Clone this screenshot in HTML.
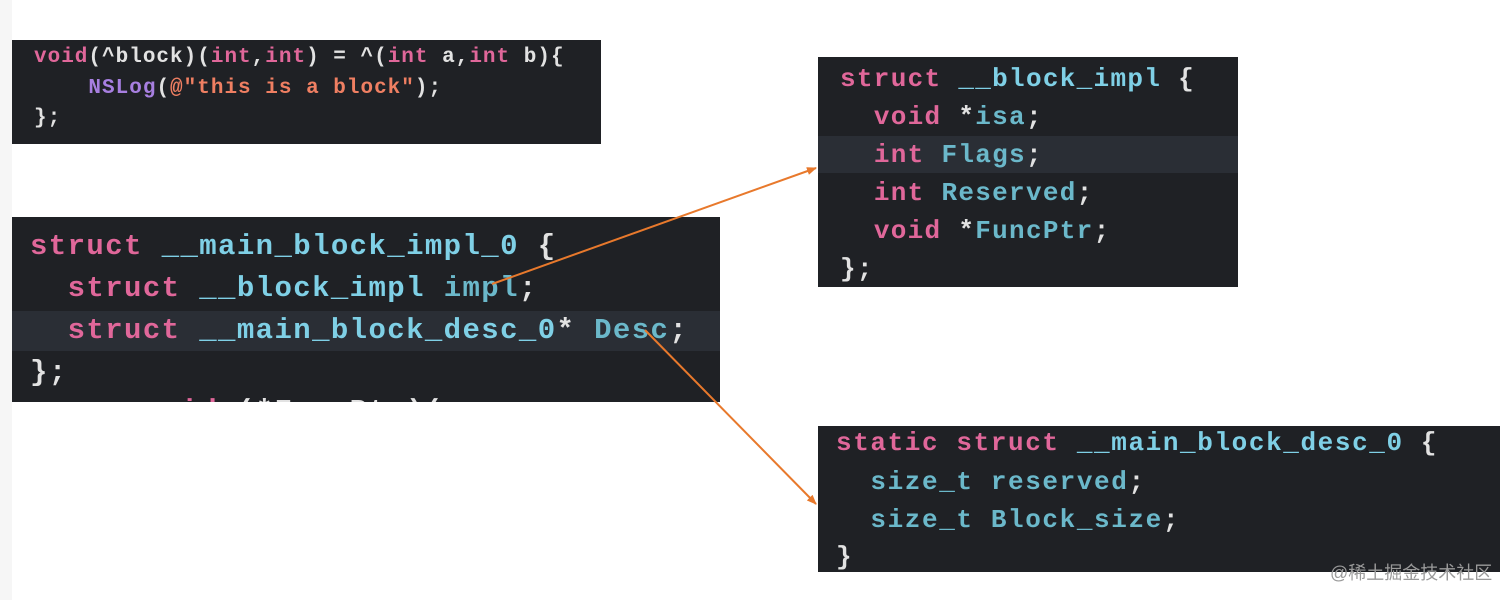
<!DOCTYPE html>
<html><head><meta charset="utf-8"><style>
html,body{margin:0;padding:0;}
body{width:1512px;height:600px;background:#fff;position:relative;overflow:hidden;font-family:"Liberation Mono",monospace;}
.box{position:absolute;background:#1f2125;}
.l{position:absolute;white-space:pre;line-height:1;font-weight:bold;}
.k{color:#e0679a}.t{color:#7fd0e6}.m{color:#6bb8ca}.w{color:#e2e2e2}.p{color:#a77fe0}.s{color:#ef7f62}
.hl{position:absolute;background:#2a2e35;}
</style></head><body>
<div style="position:absolute;left:0;top:0;width:12px;height:600px;background:#f6f6f6"></div>

<div class="box" style="left:12px;top:40px;width:589px;height:104px"></div>
<div class="l" style="left:34px;top:47px;font-size:21px;letter-spacing:1.0px"><span class="k">void</span><span class="w">(^block)(</span><span class="k">int</span><span class="w">,</span><span class="k">int</span><span class="w">) = ^(</span><span class="k">int</span><span class="w"> a,</span><span class="k">int</span><span class="w"> b){</span></div>
<div class="l" style="left:34px;top:78px;font-size:21px;letter-spacing:1.0px"><span class="w">    </span><span class="p">NSLog</span><span class="w">(</span><span class="s">@"this is a block"</span><span class="w">);</span></div>
<div class="l" style="left:34px;top:108px;font-size:21px;letter-spacing:1.0px"><span class="w">};</span></div>

<div class="box" style="left:12px;top:217px;width:708px;height:185px;overflow:hidden">
<div class="hl" style="left:0;top:94px;width:708px;height:40px"></div>
<div class="l" style="left:18px;top:15px;font-size:29px;letter-spacing:1.4px"><span class="k">struct</span><span class="w"> </span><span class="t">__main_block_impl_0</span><span class="w"> {</span></div>
<div class="l" style="left:18px;top:57px;font-size:29px;letter-spacing:1.4px"><span class="w">  </span><span class="k">struct</span><span class="w"> </span><span class="t">__block_impl</span><span class="w"> </span><span class="m">impl</span><span class="w">;</span></div>
<div class="l" style="left:18px;top:99px;font-size:29px;letter-spacing:1.4px"><span class="w">  </span><span class="k">struct</span><span class="w"> </span><span class="t">__main_block_desc_0</span><span class="w">* </span><span class="m">Desc</span><span class="w">;</span></div>
<div class="l" style="left:18px;top:141px;font-size:29px;letter-spacing:1.4px"><span class="w">};</span></div>
<div class="l" style="left:18px;top:180px;font-size:29px;letter-spacing:1.4px"><span class="w">  </span><span class="k">    void</span><span class="w"> (*FuncPtr)(</span></div>
</div>

<div class="box" style="left:818px;top:57px;width:420px;height:230px">
<div class="hl" style="left:0;top:79px;width:420px;height:37px"></div>
</div>
<div class="l" style="left:840px;top:66px;font-size:26px;letter-spacing:1.3px"><span class="k">struct</span><span class="w"> </span><span class="t">__block_impl</span><span class="w"> {</span></div>
<div class="l" style="left:840px;top:104px;font-size:26px;letter-spacing:1.3px"><span class="w">  </span><span class="k">void</span><span class="w"> *</span><span class="m">isa</span><span class="w">;</span></div>
<div class="l" style="left:840px;top:142px;font-size:26px;letter-spacing:1.3px"><span class="w">  </span><span class="k">int</span><span class="w"> </span><span class="m">Flags</span><span class="w">;</span></div>
<div class="l" style="left:840px;top:180px;font-size:26px;letter-spacing:1.3px"><span class="w">  </span><span class="k">int</span><span class="w"> </span><span class="m">Reserved</span><span class="w">;</span></div>
<div class="l" style="left:840px;top:218px;font-size:26px;letter-spacing:1.3px"><span class="w">  </span><span class="k">void</span><span class="w"> *</span><span class="m">FuncPtr</span><span class="w">;</span></div>
<div class="l" style="left:840px;top:256px;font-size:26px;letter-spacing:1.3px"><span class="w">};</span></div>

<div class="box" style="left:818px;top:426px;width:682px;height:146px"></div>
<div class="l" style="left:836px;top:430px;font-size:26px;letter-spacing:1.6px"><span class="k">static struct</span><span class="w"> </span><span class="t">__main_block_desc_0</span><span class="w"> {</span></div>
<div class="l" style="left:836px;top:469px;font-size:26px;letter-spacing:1.6px"><span class="w">  </span><span class="m">size_t reserved</span><span class="w">;</span></div>
<div class="l" style="left:836px;top:507px;font-size:26px;letter-spacing:1.6px"><span class="w">  </span><span class="m">size_t Block_size</span><span class="w">;</span></div>
<div class="l" style="left:836px;top:544px;font-size:26px;letter-spacing:1.6px"><span class="w">}</span></div>

<div style="position:absolute;white-space:pre;left:1330px;top:559px;font-size:18px;color:#9a9a9a;font-family:'Liberation Sans','Noto Sans CJK SC',sans-serif">@稀土掘金技术社区</div>

<svg width="1512" height="600" style="position:absolute;left:0;top:0">
<defs><marker id="a" markerWidth="10" markerHeight="8" refX="9" refY="4" orient="auto" markerUnits="userSpaceOnUse"><path d="M0,0 L10,4 L0,8 z" fill="#e8792c"/></marker></defs>
<line x1="492" y1="284" x2="816" y2="168" stroke="#e8792c" stroke-width="2" marker-end="url(#a)"/>
<line x1="645" y1="330" x2="816" y2="504" stroke="#e8792c" stroke-width="2" marker-end="url(#a)"/>
</svg>
</body></html>
